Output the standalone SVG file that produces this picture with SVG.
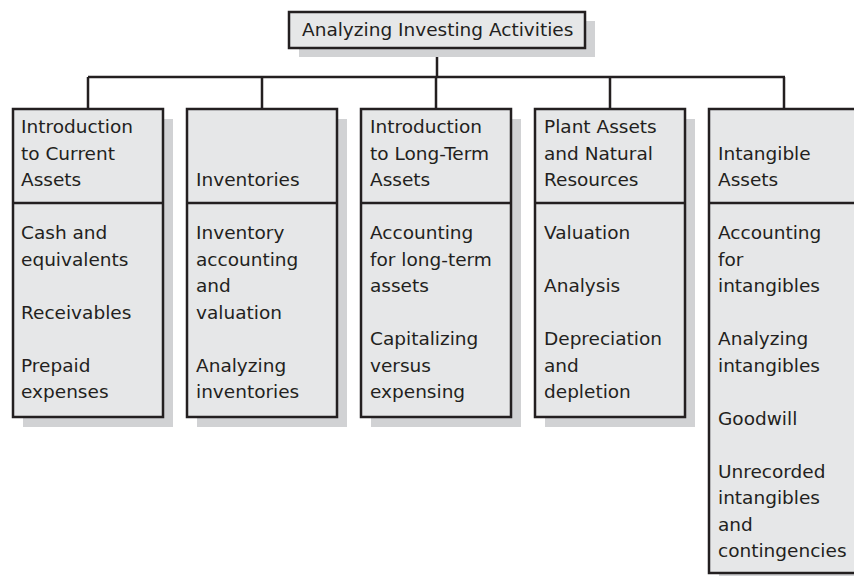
<svg xmlns="http://www.w3.org/2000/svg" width="854" height="576" viewBox="0 0 854 576">
<style>
.shadow{fill:#d1d2d4;stroke:none}
.box{fill:#e6e7e8;stroke:#231f20;stroke-width:2.5}
.div{stroke:#231f20;stroke-width:2.5}
.conn{stroke:#231f20;stroke-width:2.5;fill:none}
text{font-family:"DejaVu Sans","Liberation Sans",sans-serif;font-size:18.5px;fill:#231f20}
</style>
<rect width="854" height="576" fill="#ffffff"/>
<g id="connectors">
<path class="conn" d="M437 48V77M88 77H785M88 77V109M262 77V109M436 77V109M610 77V109M784 77V109"/>
</g>
<g id="root">
<rect class="shadow" x="299" y="21" width="296" height="36"/>
<rect class="box" x="289" y="12" width="296" height="36"/>
<text x="302" y="36">Analyzing Investing Activities</text>
</g>
<g id="current-assets">
<rect class="shadow" x="23" y="119" width="150" height="308"/>
<rect class="box" x="13" y="109" width="150" height="308"/>
<line class="div" x1="13" y1="203" x2="163" y2="203"/>
<text x="21"><tspan x="21" y="133">Introduction</tspan><tspan x="21" y="160">to Current</tspan><tspan x="21" y="186">Assets</tspan></text>
<text x="21"><tspan x="21" y="239">Cash and</tspan><tspan x="21" y="265.5">equivalents</tspan><tspan x="21" y="318.5">Receivables</tspan><tspan x="21" y="371.5">Prepaid</tspan><tspan x="21" y="398">expenses</tspan></text>
</g>
<g id="inventories">
<rect class="shadow" x="197" y="119" width="150" height="308"/>
<rect class="box" x="187" y="109" width="150" height="308"/>
<line class="div" x1="187" y1="203" x2="337" y2="203"/>
<text x="196" y="186">Inventories</text>
<text x="196"><tspan x="196" y="239">Inventory</tspan><tspan x="196" y="265.5">accounting</tspan><tspan x="196" y="292">and</tspan><tspan x="196" y="318.5">valuation</tspan><tspan x="196" y="371.5">Analyzing</tspan><tspan x="196" y="398">inventories</tspan></text>
</g>
<g id="long-term-assets">
<rect class="shadow" x="371" y="119" width="150" height="308"/>
<rect class="box" x="361" y="109" width="150" height="308"/>
<line class="div" x1="361" y1="203" x2="511" y2="203"/>
<text x="370"><tspan x="370" y="133">Introduction</tspan><tspan x="370" y="160">to Long-Term</tspan><tspan x="370" y="186">Assets</tspan></text>
<text x="370"><tspan x="370" y="239">Accounting</tspan><tspan x="370" y="265.5">for long-term</tspan><tspan x="370" y="292">assets</tspan><tspan x="370" y="345">Capitalizing</tspan><tspan x="370" y="371.5">versus</tspan><tspan x="370" y="398">expensing</tspan></text>
</g>
<g id="plant-assets">
<rect class="shadow" x="545" y="119" width="150" height="308"/>
<rect class="box" x="535" y="109" width="150" height="308"/>
<line class="div" x1="535" y1="203" x2="685" y2="203"/>
<text x="544"><tspan x="544" y="133">Plant Assets</tspan><tspan x="544" y="160">and Natural</tspan><tspan x="544" y="186">Resources</tspan></text>
<text x="544"><tspan x="544" y="239">Valuation</tspan><tspan x="544" y="292">Analysis</tspan><tspan x="544" y="345">Depreciation</tspan><tspan x="544" y="371.5">and</tspan><tspan x="544" y="398">depletion</tspan></text>
</g>
<g id="intangible-assets">
<rect class="shadow" x="719" y="119" width="150" height="464"/>
<rect class="box" x="709" y="109" width="150" height="464"/>
<line class="div" x1="709" y1="203" x2="859" y2="203"/>
<text x="718"><tspan x="718" y="160">Intangible</tspan><tspan x="718" y="186">Assets</tspan></text>
<text x="718"><tspan x="718" y="239">Accounting</tspan><tspan x="718" y="265.5">for</tspan><tspan x="718" y="292">intangibles</tspan><tspan x="718" y="345">Analyzing</tspan><tspan x="718" y="371.5">intangibles</tspan><tspan x="718" y="424.5">Goodwill</tspan><tspan x="718" y="477.5">Unrecorded</tspan><tspan x="718" y="504">intangibles</tspan><tspan x="718" y="530.5">and</tspan><tspan x="718" y="557">contingencies</tspan></text>
</g>
</svg>
